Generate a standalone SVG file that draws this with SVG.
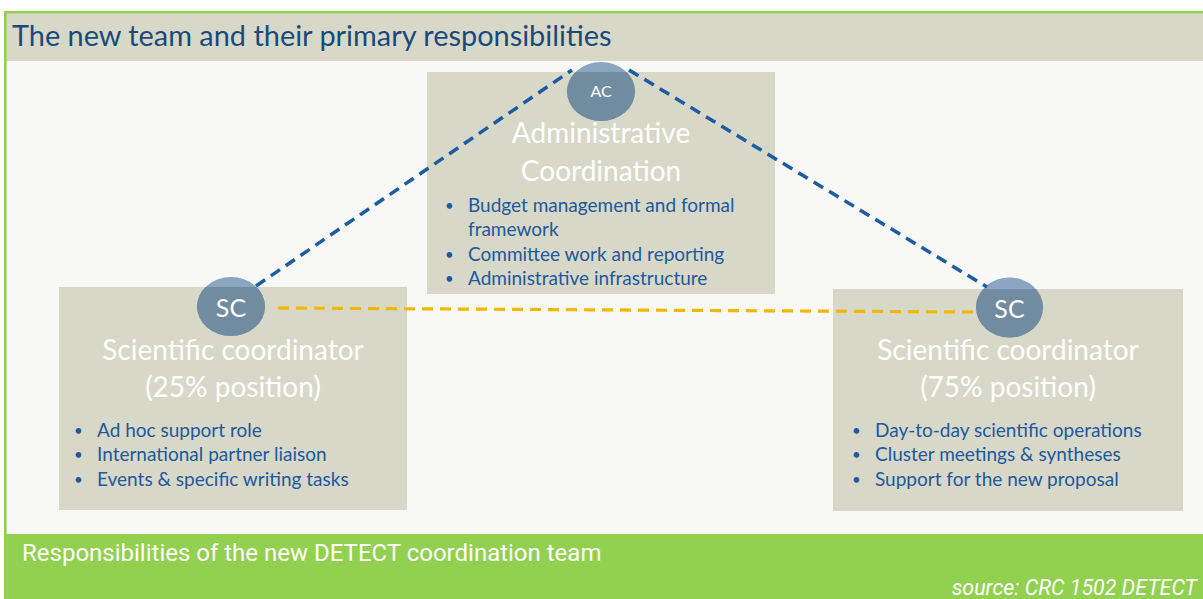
<svg xmlns="http://www.w3.org/2000/svg" width="1203" height="599" viewBox="0 0 1203 599">
<style>
.box{fill:#d8d8c8}
.circ-light{fill:#8ba6c1}
.circ-dark{fill:#718ba0}
.head{font-family:Lato,"Open Sans",sans-serif;font-size:28px;fill:#ffffff;text-anchor:middle}
.bul{font-family:Lato,"Open Sans",sans-serif;font-size:19px;fill:#2158a0}
.dot{font-size:15px}
.circtxt{font-family:Lato,"Open Sans",sans-serif;fill:#ffffff;text-anchor:middle}
.blue{stroke:#1d5ba3;stroke-width:3.5;stroke-dasharray:11 7;fill:none}
.yellow{stroke:#f2b705;stroke-width:3.2;stroke-dasharray:11 7;fill:none}
</style>
<defs>
<clipPath id="clipAC"><rect x="427" y="72" width="348" height="222"/></clipPath>
<clipPath id="clipSC1"><rect x="59" y="287" width="348" height="223"/></clipPath>
<clipPath id="clipSC2"><rect x="833" y="289" width="350" height="222"/></clipPath>
</defs>
<rect x="0" y="0" width="1203" height="599" fill="#ffffff"/>
<g id="frame">
<rect x="4" y="11" width="1199" height="588" fill="#f8f8f6"/>
<rect x="4" y="13" width="1199" height="48" fill="#d8d8c8"/>
<rect x="4" y="11" width="1199" height="2.4" fill="#92d050"/>
<rect x="4" y="11" width="2.6" height="530" fill="#92d050"/>
<text x="12" y="46" font-family="Lato,'Open Sans',sans-serif" font-size="28.9" fill="#1a4a7c">The new team and their primary responsibilities</text>
</g>
<g id="footer">
<rect x="4" y="534" width="1199" height="65" fill="#92d050"/>
<text x="22" y="561" font-family="Roboto,'Liberation Sans',sans-serif" font-size="24" fill="#ffffff">Responsibilities of the new DETECT coordination team</text>
<text x="1197" y="595" font-family="Roboto,'Liberation Sans',sans-serif" font-size="21.4" font-style="italic" fill="#ffffff" text-anchor="end">source: CRC 1502 DETECT</text>
</g>
<g id="node-ac">
<rect class="box" x="427" y="72" width="348" height="222"/>
<ellipse class="circ-light" cx="601" cy="91.5" rx="34" ry="29.5"/>
<ellipse class="circ-dark" cx="601" cy="91.5" rx="34" ry="29.5" clip-path="url(#clipAC)"/>
<text class="circtxt" x="601" y="97" font-size="16">AC</text>
<text class="head" x="601" y="143">Administrative</text>
<text class="head" x="601" y="181">Coordination</text>
<g class="bul">
<text class="dot" x="445" y="211">•</text><text x="468" y="212">Budget management and formal</text>
<text x="468" y="236">framework</text>
<text class="dot" x="445" y="260">•</text><text x="468" y="261">Committee work and reporting</text>
<text class="dot" x="445" y="284">•</text><text x="468" y="285">Administrative infrastructure</text>
</g>
</g>
<g id="node-sc-25">
<rect class="box" x="59" y="287" width="348" height="223"/>
<ellipse class="circ-light" cx="231" cy="306.5" rx="34" ry="29.5"/>
<ellipse class="circ-dark" cx="231" cy="306.5" rx="34" ry="29.5" clip-path="url(#clipSC1)"/>
<text class="circtxt" x="231" y="316.5" font-size="25">SC</text>
<text class="head" x="233" y="360">Scientific coordinator</text>
<text class="head" x="233" y="397">(25% position)</text>
<g class="bul">
<text class="dot" x="74" y="436">•</text><text x="97" y="437">Ad hoc support role</text>
<text class="dot" x="74" y="460">•</text><text x="97" y="461">International partner liaison</text>
<text class="dot" x="74" y="485">•</text><text x="97" y="486">Events &amp; specific writing tasks</text>
</g>
</g>
<g id="node-sc-75">
<rect class="box" x="833" y="289" width="350" height="222"/>
<ellipse class="circ-light" cx="1009.5" cy="307.5" rx="33.5" ry="30"/>
<ellipse class="circ-dark" cx="1009.5" cy="307.5" rx="33.5" ry="30" clip-path="url(#clipSC2)"/>
<text class="circtxt" x="1009.5" y="317.5" font-size="25">SC</text>
<text class="head" x="1008" y="360">Scientific coordinator</text>
<text class="head" x="1008" y="397">(75% position)</text>
<g class="bul">
<text class="dot" x="852" y="436">•</text><text x="875" y="437">Day-to-day scientific operations</text>
<text class="dot" x="852" y="460">•</text><text x="875" y="461">Cluster meetings &amp; syntheses</text>
<text class="dot" x="852" y="485">•</text><text x="875" y="486">Support for the new proposal</text>
</g>
</g>
<g id="connectors">
<line class="blue" x1="256" y1="286" x2="572" y2="70"/>
<line class="blue" x1="629" y1="70" x2="987" y2="287"/>
<line class="yellow" x1="278" y1="308" x2="973" y2="312"/>
</g>
</svg>
